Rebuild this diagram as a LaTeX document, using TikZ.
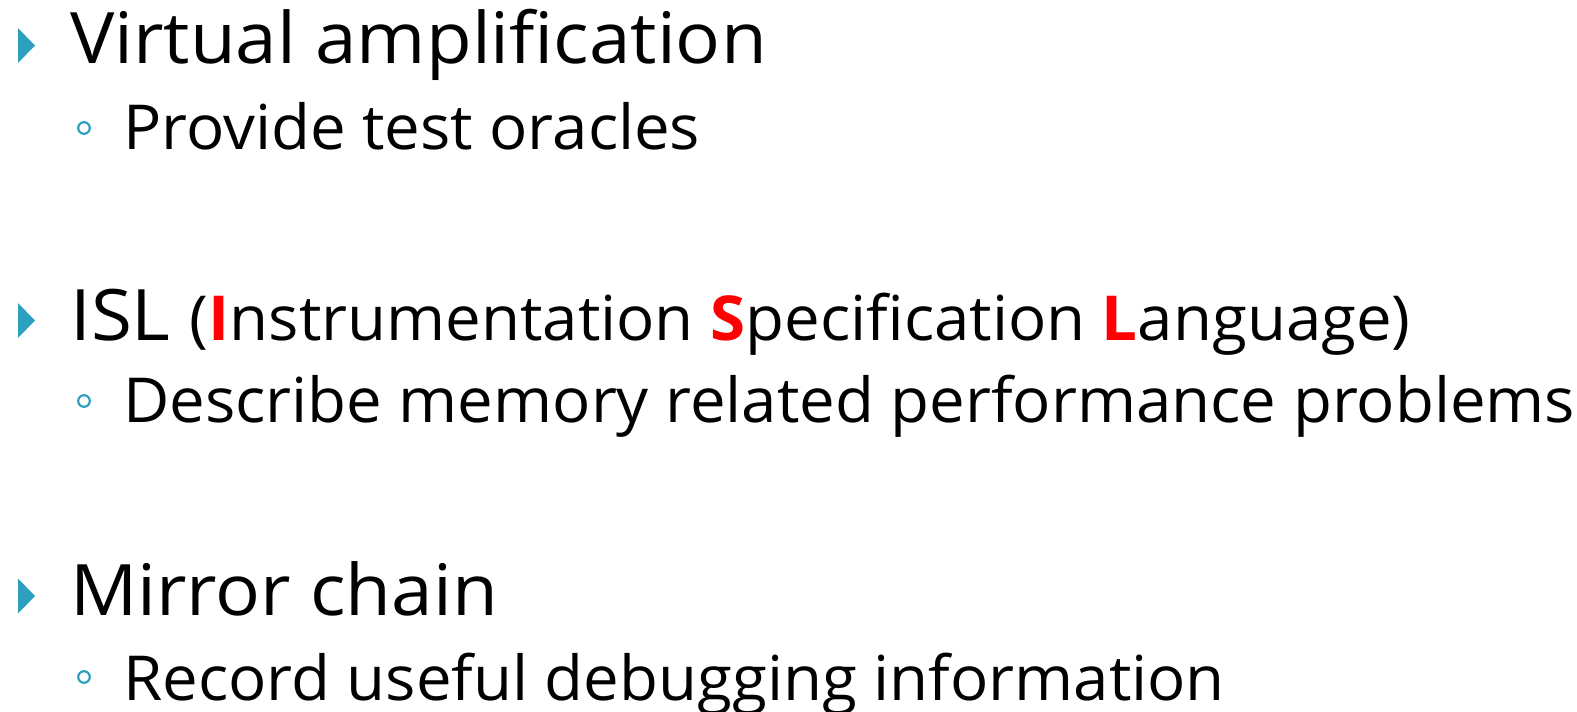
\documentclass[tikz,border=0pt]{standalone}
\usepackage{fontspec}
\setmainfont{Open Sans}[FakeStretch=1.02]
\newfontfamily\headfont{Open Sans}[FakeStretch=1.05]
\newfontfamily\subfont{Open Sans}[FakeStretch=1.025]
\definecolor{bullet}{RGB}{44,160,190}
\definecolor{accent}{RGB}{255,0,0}
\tikzset{
  lvlone/.style={anchor=base west, inner sep=0pt, font=\headfont\fontsize{71}{80}\selectfont},
  lvltwo/.style={anchor=base west, inner sep=0pt, font=\subfont\fontsize{62}{70}\selectfont},
}
\newcommand{\hl}[1]{{\bfseries\color{accent}#1}}
\newcommand{\arrowbullet}[1]{%
  \fill[bullet] (18,#1-17.5) -- (35,#1) -- (18,#1+17.5) -- cycle;}
\newcommand{\ringbullet}[1]{%
  \draw[bullet, line width=2.2pt] (84,#1) circle (5.8);}
\begin{document}
\begin{tikzpicture}[x=1pt, y=-1pt]
  \useasboundingbox (0,0) rectangle (1577,712);
  % first group
  \arrowbullet{45.5}
  \node[lvlone] (va) at (70,63) {Virtual amplification};
  \ringbullet{128}
  \node[lvltwo] (oracle) at (123,149) {Provide test oracles};
  % second group
  \arrowbullet{320.5}
  \node[lvlone] (isl) at (70,340) {ISL {\subfont\fontsize{62}{70}\selectfont (\hl{I}nstrumentation \hl{S}pecification \hl{L}anguage)}};
  \ringbullet{401}
  \node[lvltwo] (mem) at (123,422) {Describe memory related performance problems};
  % third group
  \arrowbullet{596}
  \node[lvlone] (mirror) at (70,615) {Mirror chain};
  \ringbullet{677}
  \node[lvltwo] (debug) at (123,700) {Record useful debugging information};
\end{tikzpicture}
\end{document}
